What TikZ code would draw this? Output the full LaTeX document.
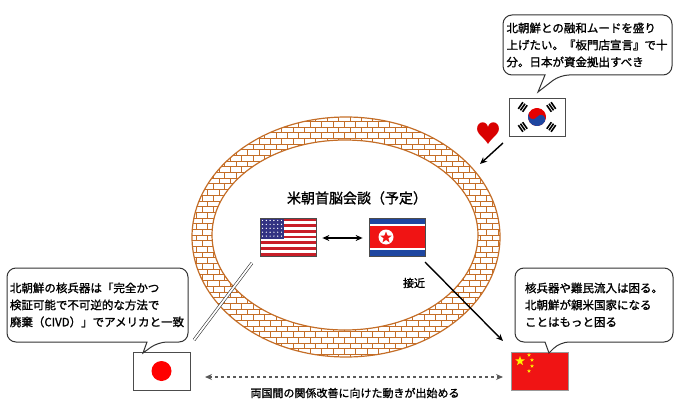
\documentclass[tikz,border=0pt]{standalone}
\usepackage{fontspec}
\setmainfont[AutoFakeBold=1.3]{Noto Sans CJK JP}
\usetikzlibrary{patterns,arrows.meta,shapes.geometric,calc}
\definecolor{brick}{RGB}{196,110,40}
\definecolor{usred}{RGB}{200,30,40}
\definecolor{usblue}{RGB}{50,50,130}
\definecolor{nkblue}{RGB}{30,70,160}
\definecolor{cnred}{RGB}{240,20,20}
\tikzset{
 txt/.style={font=\fontsize{11.5}{17}\selectfont\bfseries, align=left, inner sep=0pt},
 lbl/.style={font=\fontsize{11}{13}\selectfont\bfseries},
 bub/.style={draw=black!80, fill=white, line width=1pt, rounded corners=9pt},
 flagframe/.style={draw=black!70, line width=0.7pt},
 arr/.style={-{Stealth[length=7pt,width=6pt]}, line width=1.4pt},
}
\begin{document}
\begin{tikzpicture}[x=1pt,y=-1pt]
\useasboundingbox (0,0) rectangle (680,420);
% ring
\fill[pattern=bricks, pattern color=brick, even odd rule] (346,237) ellipse [x radius=154, y radius=120] (345,235) ellipse [x radius=133, y radius=95];
\draw[brick, line width=1.2pt] (346,237) ellipse [x radius=154, y radius=120];
\draw[brick, line width=1.2pt] (345,235) ellipse [x radius=133, y radius=95];
\node (title) at (357,198) {\fontsize{14}{16}\selectfont\bfseries 米朝首脳会談（予定）};
% US flag
\foreach \i in {0,...,12}{
 \pgfmathsetmacro\c{mod(\i,2)==0 ? 1 : 0}
 \ifdim\c pt=1pt \fill[usred] (260,{218+\i*38/13}) rectangle (316,{218+(\i+1)*38/13});\else \fill[white] (260,{218+\i*38/13}) rectangle (316,{218+(\i+1)*38/13});\fi}
\fill[usblue] (260,218) rectangle (284,238.5);
\foreach \a in {0,...,5}{\foreach \b in {0,...,4}{\fill[white] ({262.5+\a*3.8},{220.5+\b*3.9}) circle (0.7);}}
\node[flagframe, minimum width=56pt, minimum height=38pt, inner sep=0pt] (us) at (288,237) {};
% NK flag
\fill[nkblue] (369,218) rectangle (425,256);
\fill[white] (369,224) rectangle (425,250);
\fill[cnred] (369,226) rectangle (425,248);
\fill[white] (386,237) circle (7.5);
\node[star, star points=5, star point ratio=2.4, fill=cnred, inner sep=0pt, minimum size=12pt] at (386,237.5) {};
\node[flagframe, minimum width=56pt, minimum height=38pt, inner sep=0pt] (nk) at (397,237) {};
\draw[{Stealth[length=7pt,width=6pt]}-{Stealth[length=7pt,width=6pt]}, line width=1.4pt] ($(us.east)+(6,1)$) -- ($(nk.west)+(-6,1)$);
% Japan flag
\node[flagframe, fill=white, minimum width=57pt, minimum height=38pt, inner sep=0pt] (jp) at (161.5,371) {};
\fill[red] (jp.center) circle (10);
% China flag
\node[draw=black!40, fill=cnred, minimum width=57pt, minimum height=38pt, inner sep=0pt] (cn) at (539.5,371) {};
\node[star, star points=5, star point ratio=2.4, fill=yellow, inner sep=0pt, minimum size=10pt] at (520,361) {};
\foreach \p in {(529,355),(532,360),(532,366),(529,371)}
 \node[star, star points=5, star point ratio=2.4, fill=yellow, inner sep=0pt, minimum size=4pt] at \p {};
% Korea flag
\node[flagframe, fill=white, minimum width=56pt, minimum height=38pt, inner sep=0pt] (kr) at (537,117) {};
\begin{scope}[shift={(537,117)}, rotate=-30]
\fill[red!90!black] (0,0) circle (9);
\fill[nkblue] (-9,0) arc (180:0:9) arc (0:-180:4.5) arc (0:180:4.5) -- cycle;
\end{scope}
\foreach \ang in {35,145,215,325}{
 \begin{scope}[shift={(537,117)}, rotate=\ang]
 \foreach \k in {0,1,2}\fill[black] (14+\k*2.6,-4) rectangle (15.6+\k*2.6,4);
 \end{scope}}
% heart
\node[font=\fontsize{26}{26}\selectfont, text=red!85!black, inner sep=0pt] (heart) at (488,134) {♥};
\draw[arr] (503,143) -- (480,164);
% arrows
\draw[arr] (425,262) -- (503,341);
\node[lbl] (approach) at (414,283) {接近};
\draw[black!80, double, double distance=1.8pt, line width=0.6pt] (252,263) -- (194,340);
\draw[{Stealth[length=7pt,width=6pt]}-{Stealth[length=7pt,width=6pt]}, dashed, line width=1.5pt, black!65] (205,377) -- (503,377);
\node[lbl] (rel) at (355,393) {両国間の関係改善に向けた動きが出始める};
% bubbles
\draw[bub] (7,268) -- (188,268) -- (188,342) -- (158,342)[sharp corners] -- (143,353) -- (147,342)[rounded corners=9pt] -- (7,342) -- cycle;
\node[txt] (tjp) at (97,305) {北朝鮮の核兵器は「完全かつ\\検証可能で不可逆的な方法で\\廃棄（CIVD）」でアメリカと一致};
\draw[bub] (515,268) -- (673,268) -- (673,342) -- (560,342)[sharp corners] -- (549,353) -- (545,342)[rounded corners=9pt] -- (515,342) -- cycle;
\node[txt] (tcn) at (594,305) {核兵器や難民流入は困る。\\北朝鮮が親米国家になる\\ことはもっと困る};
\draw[bub] (503,15) -- (672,15) -- (672,75) -- (560,75)[sharp corners] -- (538,92) -- (545,75)[rounded corners=9pt] -- (503,75) -- cycle;
\node[txt] (tkr) at (587,45) {北朝鮮との融和ムードを盛り\\上げたい。『板門店宣言』で十\\分。日本が資金拠出すべき};
\end{tikzpicture}
\end{document}
